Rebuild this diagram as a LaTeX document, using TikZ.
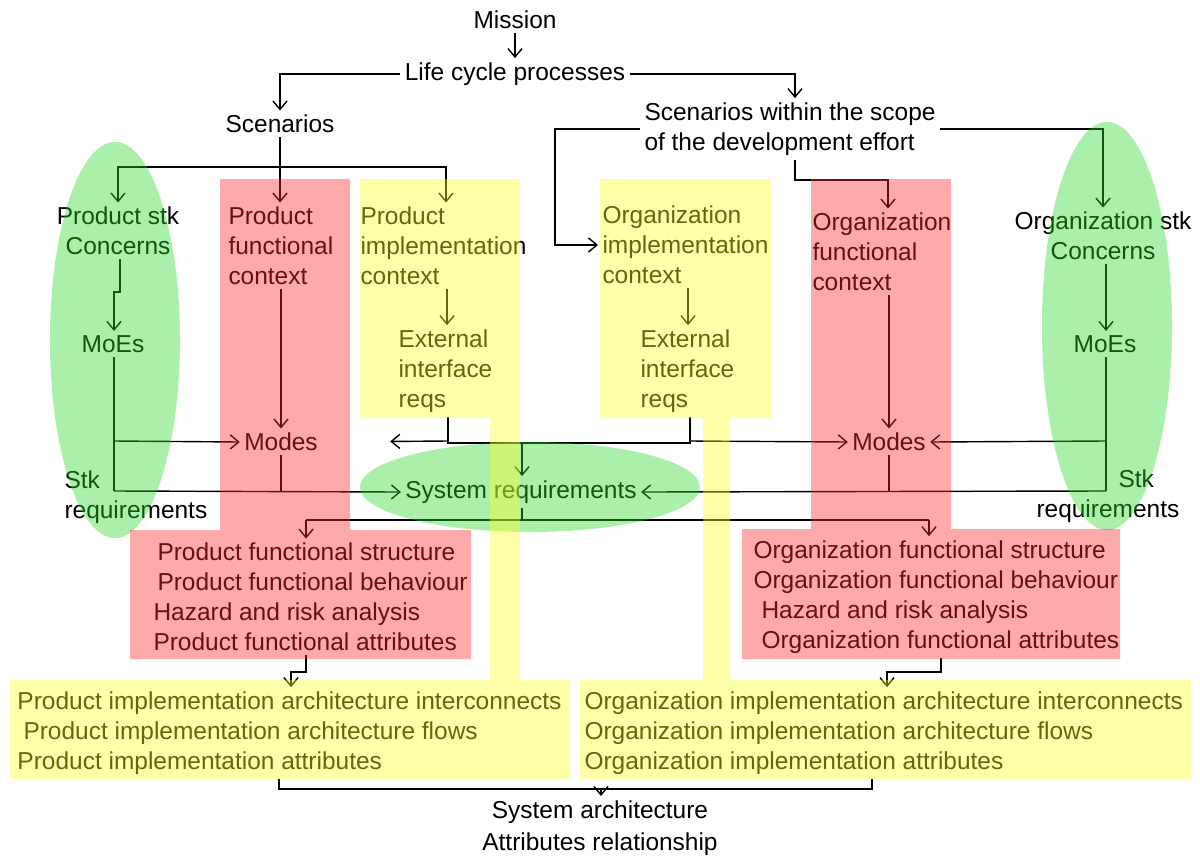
\documentclass[tikz,border=0pt]{standalone}
\usepackage{fontspec}
\setmainfont{Liberation Sans}
\usetikzlibrary{arrows.meta, calc}

\definecolor{grnwash}{RGB}{42,217,42}
\definecolor{redwash}{RGB}{255,42,42}
\definecolor{yelwash}{RGB}{255,255,42}

\tikzset{
  lbl/.style={font=\fontsize{17.4}{21.3}\selectfont, inner sep=3pt},
  lbll/.style={lbl, align=left, anchor=west},
  lblc/.style={lbl, align=center},
  con/.style={line width=1pt},
  arr/.style={con, -{Straight Barb[length=6pt,width=10pt]}},
  wash/.style={opacity=0.4}
}

\begin{document}
\begin{tikzpicture}[x=0.025cm, y=-0.025cm]
      \useasboundingbox (0,0) rectangle (1200,855);

      \node[lbl] (mission) at (515, 20) {Mission};
      \node[lbl] (life) at (515, 74) {Life cycle processes};
      \node[lbl] (scen) at (280, 124) {Scenarios};
      \node[lbll] (scope) at (640, 129) {Scenarios within the scope\\of the development effort};

      \node[lblc] (pstk) at (118, 231) {Product stk\\Concerns};
      \node[lbl] (pmoe) at (113, 344) {MoEs};
      \node[lbll] (pfc) at (224, 246) {Product\\functional\\context};
      \node[lbll] (pic) at (356, 246) {Product\\implementation\\context};
      \node[lbll] (pext) at (394, 371) {External\\interface\\reqs};
      \node[lbl] (pmodes) at (281, 442) {Modes};
      \node[lbll] (pstkreq) at (60, 497) {Stk\\requirements};

      \node[lbl] (sysreq) at (521, 492) {System requirements};

      \node[lbll] (oic) at (598, 245) {Organization\\implementation\\context};
      \node[lbll] (oext) at (636, 371) {External\\interface\\reqs};
      \node[lbll] (ofc) at (808, 252) {Organization\\functional\\context};
      \node[lblc] (ostk) at (1103, 236) {Organization stk\\Concerns};
      \node[lbl] (omoe) at (1105, 344) {MoEs};
      \node[lbl] (omodes) at (889, 442) {Modes};
      \node[lbll] (ostkreq) at (1032, 496) {\hspace*{2.05cm}Stk\\requirements};

      \node[lbll] (pfunc) at (149, 597) {\hspace*{0.1cm}Product functional structure\\\hspace*{0.1cm}Product functional behaviour\\Hazard and risk analysis\\Product functional attributes};
      \node[lbll] (ofunc) at (749, 597) {Organization functional structure\\Organization functional behaviour\\\hspace*{0.2cm}Hazard and risk analysis\\\hspace*{0.2cm}Organization functional attributes};
      \node[lbll] (pimpl) at (13, 733) {Product implementation architecture interconnects\\\hspace*{0.15cm}Product implementation architecture flows\\Product implementation attributes};
      \node[lbll] (oimpl) at (580, 733) {Organization implementation architecture interconnects\\Organization implementation architecture flows\\Organization implementation attributes};
      \node[lblc, anchor=north] (sysarch) at (600, 796) {System architecture\\[1.5pt]Attributes relationship};

      \coordinate (sbar) at (281, 167);
      \coordinate (pj1) at (114, 441);
      \coordinate (pj2) at (114, 491);
      \coordinate (oj1) at (1106, 441);
      \coordinate (oj2) at (1106, 491);
      \coordinate (ej) at (522, 443);
      \coordinate (sj) at (522, 520);
      \coordinate (aj) at (601, 789);

      \draw[arr] (mission) -- (life);
      \draw[arr] (life.west) -| (scen.north);
      \draw[arr] (life.east) -| (scope.north -| 795,0);
      \draw[arr] (scen) -- (scen |- pfc.north);
      \draw[arr] (sbar) -| (pstk.north);
      \draw[arr] (sbar) -| (pic.north -| 446,0);
      \draw[arr] (scope.west) -| (555, 245) -- (oic.west);
      \draw[arr] (scope.south -| 795,0) -- (795, 180) -| (ofc.north -| 888,0);
      \draw[arr] (scope.east) -| (ostk.north);

      \draw[arr] (pstk.south -| 120,0) -- (120, 292) -- (114, 292) -- (pmoe.north -| 114,0);
      \draw[arr] (pfc.south -| 281,0) -- (pmodes);
      \draw[arr] (pic.south -| 447,0) -- (pext.north -| 447,0);
      \draw[con] (pmoe.south -| 114,0) -- (pj2);
      \draw[arr] (pj1) -- (pmodes.west);
      \draw[arr] (pj2) -- (sysreq.west);
      \draw[con] (pmodes.south) -- (pmodes |- pj2);

      \draw[con] (pext.south -| 448,0) -- (448, 443) -- (690, 443) -- (oext.south -| 690,0);
      \draw[arr, shorten >=1.7cm] (448, 441) -- (pmodes.east);
      \draw[arr] (690, 441) -- (omodes.west);
      \draw[arr] (ej) -- (sysreq.north -| ej);

      \draw[arr] (oic.south -| 688,0) -- (oext.north -| 688,0);
      \draw[arr] (ofc.south -| 889,0) -- (omodes);
      \draw[arr] (ostk.south -| 1106,0) -- (omoe.north -| 1106,0);
      \draw[con] (omoe.south -| 1106,0) -- (oj2);
      \draw[arr] (oj1) -- (omodes.east);
      \draw[arr] (oj2) -- (sysreq.east);
      \draw[con] (omodes.south) -- (omodes |- oj2);

      \draw[con] (sysreq.south -| sj) -- (sj);
      \draw[con] (306, 520) -- (929, 520);
      \draw[arr] (306, 520) -- (pfunc.north -| 306,0);
      \draw[arr] (929, 520) -- (ofunc.north -| 929,0);

      \draw[arr] (pfunc.south -| 306,0) -- (306, 672) -- (291, 672) -- (pimpl.north -| 291,0);
      \draw[arr] (ofunc.south -| 941,0) -- (941, 672) -- (887, 672) -- (oimpl.north -| 887,0);
      \draw[con] (pimpl.south -| 279,0) -- (279, 789) -- (872, 789) -- (oimpl.south -| 872,0);
      \draw[arr] (aj) -- (sysarch.north -| aj);

      \fill[wash, fill=grnwash] (115, 340) ellipse [x radius=1.625cm, y radius=4.95cm];
      \fill[wash, fill=grnwash] (1107, 326) ellipse [x radius=1.625cm, y radius=5.1cm];
      \fill[wash, fill=grnwash] (530, 487) ellipse [x radius=4.25cm, y radius=1.125cm];
      \fill[wash, fill=redwash] (220, 179) -- (350, 179) -- (350, 530) -- (471, 530) -- (471, 659) -- (130, 659) -- (130, 530) -- (220, 530) -- cycle;
      \fill[wash, fill=redwash] (811, 179) -- (951, 179) -- (951, 529) -- (1120, 529) -- (1120, 659) -- (742, 659) -- (742, 529) -- (811, 529) -- cycle;
      \fill[wash, fill=yelwash] (360, 179) -- (520, 179) -- (520, 680) -- (570, 680) -- (570, 779) -- (10, 779) -- (10, 680) -- (490, 680) -- (490, 418) -- (360, 418) -- cycle;
      \fill[wash, fill=yelwash] (600, 179) -- (771, 179) -- (771, 418) -- (730, 418) -- (730, 680) -- (1191, 680) -- (1191, 779) -- (580, 779) -- (580, 680) -- (703, 680) -- (703, 418) -- (600, 418) -- cycle;
\end{tikzpicture}
\end{document}
